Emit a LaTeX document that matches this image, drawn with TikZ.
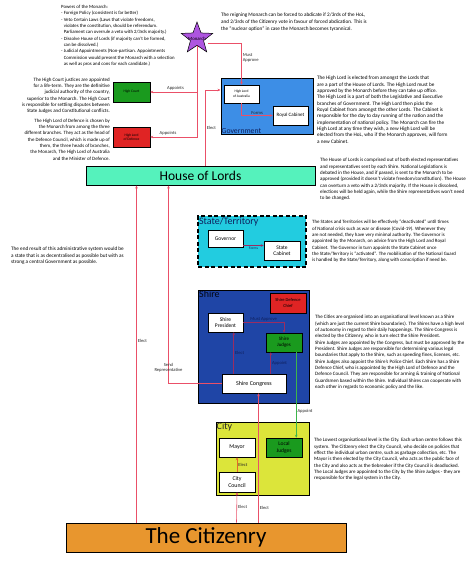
\documentclass[tikz,border=0pt]{standalone}
\usepackage{fontspec}
\setmainfont{Carlito}
\usetikzlibrary{calc,arrows.meta,positioning,shapes.geometric}
\definecolor{govx}{HTML}{3D8EE6}
\definecolor{holx}{HTML}{55F2BC}
\definecolor{statex}{HTML}{22CCE0}
\definecolor{shirex}{HTML}{1F45A6}
\definecolor{cityx}{HTML}{DCE53A}
\definecolor{citzx}{HTML}{E8962E}
\definecolor{greenx}{HTML}{1A9A1E}
\definecolor{redx}{HTML}{E02424}
\definecolor{starx}{HTML}{AE55E0}
\definecolor{linkx}{HTML}{EA5068}
\definecolor{shlinkx}{HTML}{9A2D62}
\definecolor{glinkx}{HTML}{3DB54A}
\definecolor{olinkx}{HTML}{E56A2A}
\definecolor{navyx}{HTML}{0F1F5C}
\newcommand{\nfont}[1]{\fontsize{#1}{6.35}\selectfont}
\tikzset{
  box/.style={draw=black,line width=0.5pt,fill=white,align=center,inner sep=0pt},
  lvl/.style={draw=black,line width=1pt,inner sep=0pt},
  lvltitle/.style={anchor=north west,inner sep=0pt,text=navyx,font=\fontsize{10}{10}\selectfont},
  note/.style={align=left,anchor=north west,inner sep=0pt,font=\nfont{5.0}},
  rnote/.style={note,align=right,anchor=north east},
  lk/.style={-{Stealth[length=3pt,width=2.6pt]},linkx,line width=0.6pt},
  slk/.style={lk,shlinkx},
  glk/.style={lk,glinkx},
  olk/.style={lk,olinkx},
  lbl/.style={font=\fontsize{4.6}{5.2}\selectfont,inner sep=1pt,text=black!85}
}
\begin{document}
\begin{tikzpicture}[x=1pt,y=-1pt]
\useasboundingbox (0,0) rectangle (474,562);

% notes
\node[note,font=\nfont{4.8}] (powers) at (61,5) {Powers of the Monarch:\\
- Foreign Policy (consistent is far better)\\
- Veto Certain Laws (Laws that violate freedoms,\\
\hphantom{- }violates the constitution, should be referendum.\\
\hphantom{- }Parliament can overrule a veto with 2/3rds majority.)\\
- Dissolve House of Lords (if majority can't be formed,\\
\hphantom{- }can be dissolved.)\\
- Judicial Appointments (Non-partisan. Appointments\\
\hphantom{- }Commission would present the Monarch with a selection\\
\hphantom{- }as well as pros and cons for each candidate.)};
\node[note,font=\fontsize{5.2}{6.6}\selectfont] (abdicate) at (221,13) {The reigning Monarch can be forced to abdicate if 2/3rds of the HoL,\\
and 2/3rds of the Citizenry vote in favour of forced abdication. This is\\
the “nuclear option” in case the Monarch becomes tyrannical.};
\node[rnote] (courtnote) at (110,77.5) {The High Court justices are appointed\\
for a life-term. They are the definitive\\
judicial authority of the country,\\
superior to the Monarch. The High Court\\
is responsible for settling disputes between\\
State Judges and Constitutional conflicts.};
\node[rnote,font=\nfont{4.9}] (defnote) at (110,118.5) {The High Lord of Defence is chosen by\\
the Monarch from among the three\\
different branches. They act as the head of\\
the Defence Council, which is made up of\\
them, the three heads of branches,\\
the Monarch, The High Lord of Australia\\
and the Minister of Defence.};
\node[note,font=\nfont{5.2}] (lordnote) at (317,76) {The High Lord is elected from amongst the Lords that\\
are a part of the House of Lords. The High Lord must be\\
approved by the Monarch before they can take up office.\\
The High Lord is a part of both the Legislative and Executive\\
branches of Government. The High Lord then picks the\\
Royal Cabinet from amongst the other Lords. The Cabinet is\\
responsible for the day to day running of the nation and the\\
implementation of national policy. The Monarch can fire the\\
High Lord at any time they wish, a new High Lord will be\\
elected from the HoL, who if the Monarch approves, will form\\
a new Cabinet.};
\node[note] (holnote) at (320,158) {The House of Lords is comprised out of both elected representatives\\
and representatives sent by each Shire. National Legislations is\\
debated in the House, and if passed, is sent to the Monarch to be\\
approved (provided it doesn't violate freedom/constitution). The House\\
can overturn a veto with a 2/3rds majority. If the House is dissolved,\\
elections will be held again, while the Shire representatives won't need\\
to be changed.};
\node[note,font=\nfont{4.9}] (statenote) at (312,220) {The States and Territories will be effectively “deactivated” until times\\
of National crisis such as war or disease (Covid-19). Whenever they\\
are not needed, they have very minimal authority. The Governor is\\
appointed by the Monarch, on advice from the High Lord and Royal\\
Cabinet. The Governor in turn appoints the State Cabinet once\\
the State/Territory is “activated”. The mobilisation of the National Guard\\
is handled by the State/Territory, along with conscription if need be.};
\node[note,font=\nfont{5.2}] (endnote) at (11,247) {The end result of this administrative system would be\\
a state that is as decentralised as possible but with as\\
strong a central Government as possible.};
\node[note] (shirenote) at (315,315) {The Cities are organised into an organisational level known as a Shire\\
(which are just the current Shire boundaries). The Shires have a high level\\
of autonomy in regard to their daily happenings. The Shire Congress is\\
elected by the Citizenry, who in turn elect the Shire President.\\
Shire Judges are appointed by the Congress, but must be approved by the\\
President. Shire Judges are responsible for determining various legal\\
boundaries that apply to the Shire, such as speeding fines, licenses, etc.\\
Shire Judges also appoint the Shire's Police Chief. Each Shire has a Shire\\
Defence Chief, who is appointed by the High Lord of Defence and the\\
Defence Council. They are responsible for arming \& training of National\\
Guardsmen based within the Shire. Individual Shires can cooperate with\\
each other in regards to economic policy and the like.};
\node[note] (citynote) at (314,438) {The Lowest organisational level is the City. Each urban centre follows this\\
system. The Citizenry elect the City Council, who decide on policies that\\
effect the individual urban centre, such as garbage collection, etc. The\\
Mayor is then elected by the City Council, who acts as the public face of\\
the City and also acts as the tiebreaker if the City Council is deadlocked.\\
The Local Judges are appointed to the City by the Shire Judges - they are\\
responsible for the legal system in the City.};

% levels
\node[lvl,fill=govx,minimum width=92pt,minimum height=56pt] (gov) at (267,106) {};
\node[lvl,fill=holx,minimum width=229pt,minimum height=19pt,font=\fontsize{13.5}{14}\selectfont] (hol) at (200.5,175.5) {House of Lords};
\node[lvl,fill=statex,line width=1.2pt,dash pattern=on 4pt off 2.5pt,minimum width=108pt,minimum height=51pt] (state) at (252,241.5) {};
\node[lvl,fill=shirex,minimum width=111pt,minimum height=113pt] (shire) at (253.5,346.5) {};
\node[lvl,fill=cityx,minimum width=93pt,minimum height=73pt] (city) at (262.5,458.5) {};
\node[lvl,fill=citzx,minimum width=280pt,minimum height=29pt,font=\fontsize{23}{24}\selectfont] (citz) at (206,537.5) {The Citizenry};
\node[lvltitle,anchor=south west,font=\fontsize{7.7}{8}\selectfont] (govtitle) at ([xshift=1pt,yshift=0.5pt]gov.south west) {Government};
\node[lvltitle] (statetitle) at ([xshift=1.5pt,yshift=-1.5pt]state.north west) {State/Territory};
\node[lvltitle,text=black!80!navyx] (shiretitle) at ([xshift=1.5pt,yshift=-1pt]shire.north west) {Shire};
\node[lvltitle,text=black!85] (citytitle) at ([xshift=1pt,yshift=-0.5pt]city.north west) {City};

% monarch and boxes
\node[star,star points=5,star point ratio=2.4,fill=starx,draw=black,line width=0.5pt,minimum size=33pt,inner sep=0pt,font=\fontsize{4.8}{5}\selectfont] (monarch) at (197,38.5) {\makebox[0pt]{Monarch}};
\node[box,fill=greenx,minimum width=37pt,minimum height=20pt,font=\fontsize{3.6}{4.4}\selectfont] (hcourt) at (131.5,92) {High Court};
\node[box,fill=redx,minimum width=37pt,minimum height=20pt,font=\fontsize{3.6}{4.4}\selectfont] (hldef) at (131.5,137) {High Lord\\of Defence};
\node[box,minimum width=35pt,minimum height=18pt,font=\fontsize{3.6}{4.6}\selectfont] (hla) at (241.5,94) {High Lord\\of Australia};
\node[box,minimum width=35pt,minimum height=19pt,font=\fontsize{5}{6}\selectfont] (rcab) at (290.5,115.5) {Royal Cabinet};
\node[box,minimum width=35pt,minimum height=17pt,font=\fontsize{5.5}{6.5}\selectfont] (governor) at (225.5,238.5) {Governor};
\node[box,minimum width=36pt,minimum height=19pt,font=\fontsize{5.5}{6.5}\selectfont] (scab) at (282,250.5) {State\\Cabinet};
\node[box,fill=redx,minimum width=36pt,minimum height=20pt,font=\fontsize{4.5}{5.5}\selectfont] (sdc) at (288,303) {Shire Defence\\Chief};
\node[box,minimum width=35pt,minimum height=19pt,font=\fontsize{5.5}{6.5}\selectfont] (spres) at (225.5,322.5) {Shire\\President};
\node[box,fill=greenx,minimum width=36pt,minimum height=19pt,font=\fontsize{5}{6.2}\selectfont] (sjud) at (284,342.5) {Shire\\Judges};
\node[box,minimum width=64pt,minimum height=19pt,font=\fontsize{6}{7}\selectfont] (scong) at (254,383.5) {Shire Congress};
\node[box,minimum width=36pt,minimum height=19pt,font=\fontsize{5.8}{7}\selectfont] (mayor) at (237,447.5) {Mayor};
\node[box,fill=greenx,minimum width=36pt,minimum height=19pt,font=\fontsize{5.5}{6.6}\selectfont] (ljud) at (284,447.5) {Local\\Judges};
\node[box,minimum width=36pt,minimum height=20pt,font=\fontsize{5.8}{7}\selectfont] (ccl) at (237,482) {City\\Council};

% connectors
\draw[lk] (monarch.south) |- (hcourt.east) node[lbl,pos=0.73,above]{Appoints};
\draw[lk] (monarch.south) |- (hldef.east) node[lbl,pos=0.81,above]{Appoints};
\draw[lk] ([shift={(11,5)}]monarch.center) -| (hla.north) node[lbl,pos=0.67,right,align=left]{Must\\Approve};
\draw[lk] ([xshift=120pt]hol.north west) |- ([yshift=16pt]gov.west) node[lbl,pos=0.25,right]{Elect};
\draw[lk] (hla.south) |- (rcab.west) node[lbl,pos=0.75,above]{Forms};
\draw[slk] ([yshift=-7pt]governor.east) -- ([yshift=-7pt]governor.east -| scab.west) node[lbl,midway,below,text=navyx,font=\fontsize{3.6}{4}\selectfont]{Forms};
\draw[lk] (scong.west) -| ([xshift=83pt]hol.south west) node[lbl,pos=0.54,align=center]{Send\\Representative};
\draw[lk] ([xshift=71pt]citz.north west) -- ([xshift=51pt]hol.south west) node[lbl,pos=0.54,right]{Elect};
\draw[slk] ([xshift=12pt]scong.north west) -- ([xshift=12pt]scong.north west |- spres.south) node[lbl,midway,right,text=navyx]{Elect};
\draw[slk] ([xshift=49pt]scong.north west) -- ([xshift=49pt]scong.north west |- sjud.south) node[lbl,midway,right,text=navyx]{Appoint};
\draw[slk] (spres.east) -| (sjud.north) node[lbl,pos=0.25,above,text=navyx]{Must Approve};
\draw[glk] ([xshift=-6pt]sjud.south east) -- ([xshift=-6pt]ljud.north east) node[lbl,pos=0.69,right]{Appoint};
\draw[olk] (ccl.north) -- (mayor.south) node[lbl,midway,right]{Elect};
\draw[lk] ([xshift=171pt]citz.north west) -- (ccl.south) node[lbl,midway,right]{Elect};
\draw[lk] ([xshift=193pt]citz.north west) -- ([xshift=193pt]citz.north west |- scong.south) node[lbl,pos=0.115,right]{Elect};
\end{tikzpicture}
\end{document}
